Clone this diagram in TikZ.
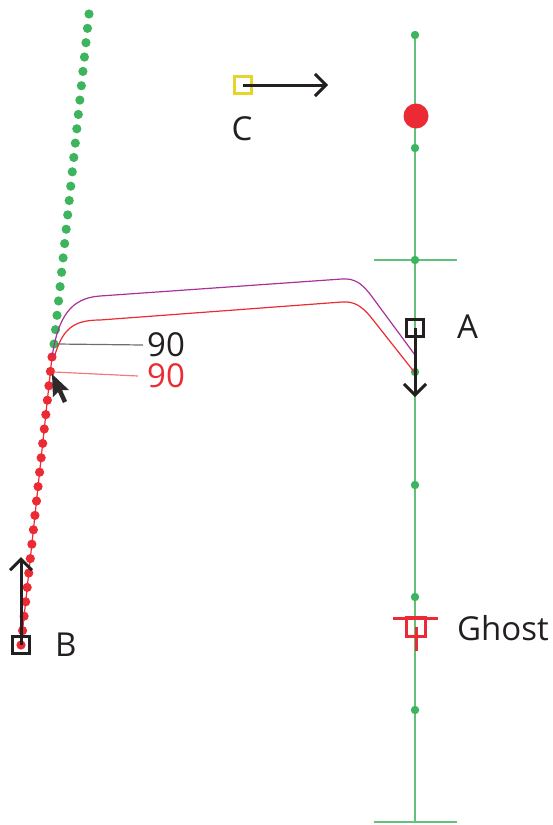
\documentclass[tikz,border=0pt]{standalone}
\usepackage{fontspec}
\setmainfont{Open Sans}
\usetikzlibrary{arrows.meta}
\definecolor{gline}{HTML}{62C27A}
\definecolor{gdot}{HTML}{3DB55E}
\definecolor{rdot}{HTML}{EC2A33}
\definecolor{purp}{HTML}{A8329A}
\definecolor{yel}{HTML}{E5D42A}
\definecolor{blk}{HTML}{231F20}
\definecolor{lred}{HTML}{F07A7F}
\definecolor{gry}{HTML}{6D6E71}
\begin{document}
\begin{tikzpicture}[x=1pt,y=-1pt,
  sq/.style={draw=blk,line width=2.6pt,minimum size=17pt,inner sep=0pt,fill=none},
  lbl/.style={font=\fontsize{33}{38}\selectfont,text=blk,inner sep=0pt},
  mv/.style={draw=blk,line width=3pt,-{Straight Barb[length=11pt,width=22pt,line width=3pt]}},
  gd/.style={fill=gdot,draw=none},
  rd/.style={fill=rdot,draw=none}]
\useasboundingbox (0,0) rectangle (553,825);
% green vertical track
\coordinate (top) at (415,35);
\coordinate (bot) at (415,822);
\draw[gline,line width=2pt] (top) -- (bot);
\draw[gline,line width=2pt] (374,260) -- (457,260);
\draw[gline,line width=2pt] (374,822) -- (457,822);
\foreach \y in {35,148,260,372,485,597,710} \fill[gd] (415,\y) circle (4.2);
\fill[rd] (416,116) circle (12.5);
% green dotted trail
\foreach \i in {0,...,23} \fill[gd] ({89-35*\i/23},{14+330*\i/23}) circle (4.6);
% red dotted trail
\draw[rdot,line width=1.2pt] (52,357) -- (21,645);
\foreach \i in {0,...,20} \fill[rd] ({52-31*\i/20},{357+288*\i/20}) circle (4.6);
% paths
\draw[purp,line width=1.2pt] (52,357) .. controls (58,318) and (70,298) .. (100,296) -- (342,279) .. controls (355,278) and (362,284) .. (370,294) -- (415,355);
\draw[rdot,line width=1.2pt] (54,358) .. controls (62,330) and (72,320) .. (100,320) -- (342,302) .. controls (355,301) and (362,307) .. (370,316) -- (415,373);
% labels 90
\node[lbl,anchor=west] (n90a) at (147,345) {90};
\node[lbl,anchor=west,text=rdot] (n90b) at (147,376) {90};
\draw[gry,line width=1.2pt] (57,344) -- ([xshift=-4pt]n90a.west);
\draw[lred,line width=1.2pt] (54,372) -- ([xshift=-9pt]n90b.west);
% cursor
\fill[blk!95!white] (52,374) -- (53,397) -- (58,392) -- (63,403) -- (67,401) -- (62,390) -- (69,390) -- cycle;
% A
\node[sq] (A) at (415,328) {};
\coordinate (Aend) at (415,397);
\draw[mv] (A.center) -- (Aend);
\node[lbl,anchor=west] (Al) at (457,327) {A};
% B
\node[sq] (B) at (21,645) {};
\coordinate (Bend) at (21,557);
\draw[mv] (B.center) -- (Bend);
\node[lbl,anchor=west] (Bl) at (55,645) {B};
% C
\node[sq,draw=yel] (C) at (243,85) {};
\coordinate (Cend) at (328,85);
\draw[mv] (C.center) -- (Cend);
\node[lbl] (Cl) at (242,129) {C};
% Ghost
\draw[rdot,line width=3pt] (393,618) -- (438,618);
\node[sq,draw=rdot,minimum size=19pt] (G) at (416,627) {};
\coordinate (Gend) at (416,651);
\draw[rdot,line width=3pt] (G.center) -- (Gend);
\node[lbl,anchor=west] (Gl) at (457,628) {Ghost};
\end{tikzpicture}
\end{document}
